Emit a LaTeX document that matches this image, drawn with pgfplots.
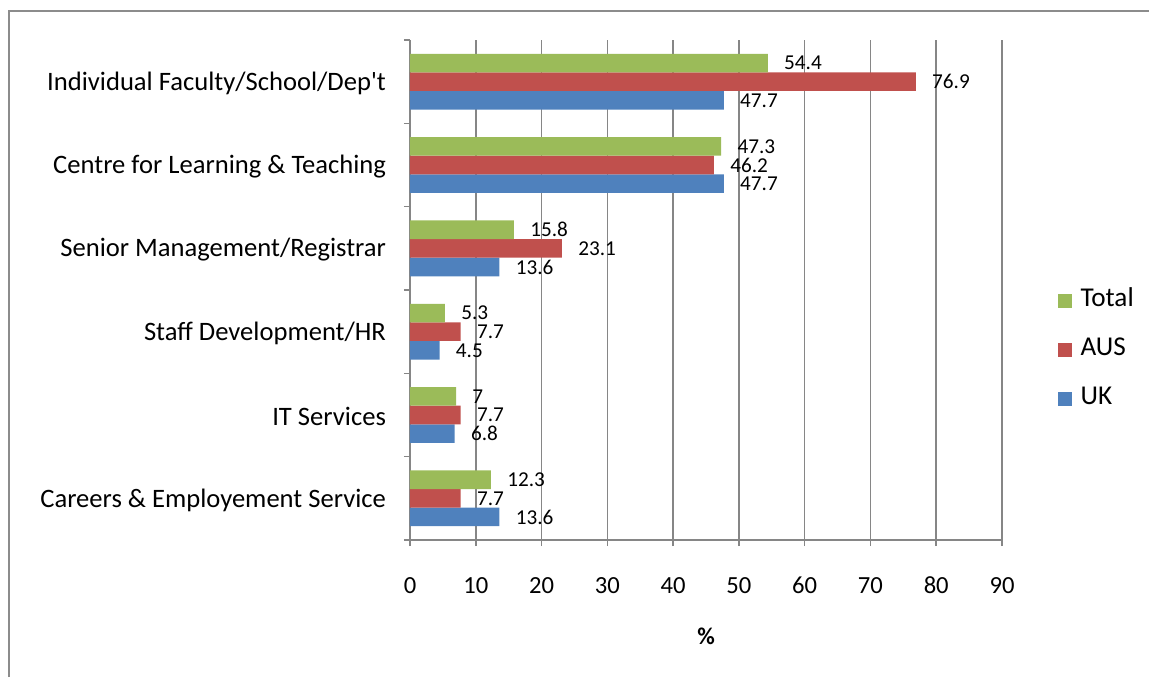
\documentclass[border=0pt]{standalone}
\usepackage{pgfplots}
\pgfplotsset{compat=1.18}
\usepackage{fontspec}
\setmainfont{Carlito}
\newfontfamily\straight{Carlito}
\definecolor{cUK}{HTML}{4F81BD}
\definecolor{cAUS}{HTML}{C0504D}
\definecolor{cTot}{HTML}{9BBB59}
\definecolor{cGrid}{HTML}{868686}
\begin{document}
\begin{tikzpicture}
\useasboundingbox (-205pt,-68.5pt) rectangle (369.5pt,270pt);
\draw[color=black!45, line width=1pt] (-200.5pt,-68.5pt) -- (-200.5pt,264.5pt) -- (369.5pt,264.5pt);
\begin{axis}[
  at={(0pt,0pt)}, anchor=south west,
  scale only axis, width=296pt, height=250pt,
  xbar=0pt, bar width=9.3pt,
  xmin=0, xmax=90, ymin=-0.5, ymax=5.5,
  enlargelimits=false,
  axis x line*=bottom, axis y line*=left,
  axis line style={cGrid, line width=0.75pt},
  xtick={0,10,...,90},
  xmajorgrids, grid style={cGrid, line width=0.75pt},
  tick align=outside, major tick length=3pt,
  tick style={cGrid, line width=0.75pt},
  ytick={-0.5,0.5,1.5,2.5,3.5,4.5,5.5}, yticklabels={},
  extra y ticks={0,1,2,3,4,5},
  extra y tick labels={Careers \& Employement Service, IT Services, Staff Development/HR, Senior Management/Registrar, Centre for Learning \& Teaching, {\straight Individual Faculty/School/Dep't}},
  extra y tick style={major tick length=0pt, grid=none},
  yticklabel style={font=\fontsize{13.3}{15}\selectfont, xshift=-8.5pt, yshift=-0.8pt},
  xticklabel style={font=\fontsize{12.3}{14}\selectfont, yshift=-12pt},
  /pgf/number format/assume math mode=true,
  xlabel={\textbf{\%}},
  xlabel style={font=\fontsize{12}{14}\selectfont, at={(axis description cs:0.5,0)}, anchor=center, yshift=-48pt},
  nodes near coords,
  every node near coord/.append style={font=\fontsize{10.6}{12}\selectfont, anchor=west, inner sep=0pt, xshift=8pt, black},
  legend style={at={(rel axis cs:1.083,0.381)}, anchor=west, draw=none, fill=none,
    font=\fontsize{13.6}{15}\selectfont, row sep=8.5pt,
    nodes={text height=9pt, text depth=3pt},
    /tikz/every odd column/.append style={column sep=2.5pt}},
  legend cell align=left,
  reverse legend,
  legend image code/.code={\fill[#1] (0pt,-3.5pt) rectangle (7pt,3.5pt);},
]
\addplot[fill=cUK, draw=none] coordinates {(13.6,0) (6.8,1) (4.5,2) (13.6,3) (47.7,4) (47.7,5)};
\addplot[fill=cAUS, draw=none] coordinates {(7.7,0) (7.7,1) (7.7,2) (23.1,3) (46.2,4) (76.9,5)};
\addplot[fill=cTot, draw=none] coordinates {(12.3,0) (7,1) (5.3,2) (15.8,3) (47.3,4) (54.4,5)};
\legend{UK, AUS, Total}
\end{axis}
\end{tikzpicture}
\end{document}
